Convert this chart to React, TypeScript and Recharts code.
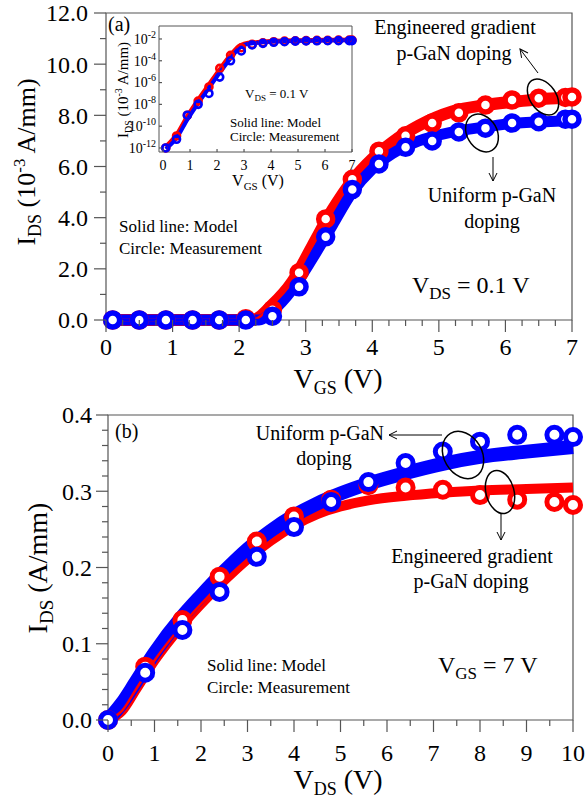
import React from "react";
import { ComposedChart, Line, XAxis, YAxis, ReferenceArea } from "recharts";

const FONT = "'Liberation Serif', 'Times New Roman', Times, serif";
const RED = "#ff0000";
const BLUE = "#0000ff";
const AXIS = "#555555";

// ---- (a) transfer curve, VDS = 0.1 V (IDS in 1e-3 A/mm) ----
const vgsMeas = [0.1, 0.5, 0.9, 1.3, 1.7, 2.1, 2.5, 2.9, 3.3, 3.7, 4.1, 4.5, 4.9, 5.3, 5.7, 6.1, 6.5, 6.9, 7.0];
const idsRedMeasA = [0, 0, 0, 0, 0, 0.05, 0.4, 1.85, 3.95, 5.5, 6.6, 7.2, 7.7, 8.1, 8.4, 8.6, 8.67, 8.7, 8.72];
const idsBlueMeasA = [0, 0, 0, 0, 0, 0, 0.15, 1.3, 3.25, 5.1, 6.1, 6.75, 7.0, 7.35, 7.5, 7.7, 7.75, 7.85, 7.85];

const vgsRedModelA = [0, 2.2, 2.5, 2.8, 3.1, 3.4, 3.7, 4.0, 4.3, 4.7, 5.2, 5.7, 6.2, 6.6, 7.0];
const idsRedModelA = [0, 0, 0.6, 1.5, 2.9, 4.3, 5.45, 6.3, 6.95, 7.6, 8.15, 8.4, 8.55, 8.65, 8.7];
const vgsBlueModelA = [0, 2.3, 2.5, 2.8, 3.1, 3.4, 3.7, 4.0, 4.3, 4.7, 5.2, 5.7, 6.2, 6.6, 7.0];
const idsBlueModelA = [0, 0, 0.35, 1.2, 2.4, 3.7, 5.0, 5.9, 6.5, 7.0, 7.35, 7.55, 7.7, 7.75, 7.8];

// inset: log10(IDS)
const logRedMeasIn = [-12.0, -10.9, -9.0, -7.7, -6.4, -4.7, -3.5, -2.8, -2.5, -2.35, -2.25, -2.2, -2.17, -2.15, -2.13, -2.12, -2.11, -2.1, -2.1];
const logBlueMeasIn = [-12.0, -11.2, -9.0, -8.0, -7.0, -5.5, -4.0, -3.1, -2.55, -2.4, -2.3, -2.25, -2.2, -2.18, -2.17, -2.16, -2.15, -2.15, -2.15];
const vgsModelIn = [0.1, 0.5, 0.9, 1.3, 1.7, 2.1, 2.5, 2.8, 3.0, 3.5, 4.0, 5.0, 6.0, 7.0];
const logRedModelIn = [-11.9, -10.8, -9.1, -7.6, -6.2, -4.8, -3.5, -2.7, -2.45, -2.3, -2.2, -2.13, -2.1, -2.08];
const logBlueModelIn = [-12.1, -11.1, -9.4, -7.9, -6.5, -5.1, -3.8, -2.9, -2.55, -2.35, -2.25, -2.17, -2.14, -2.12];

// ---- (b) output curve, VGS = 7 V (A/mm) ----
const vdsMeas = [0, 0.8, 1.6, 2.4, 3.2, 4.0, 4.8, 5.6, 6.4, 7.2, 8.0, 8.8, 9.6, 10];
const idsRedMeasB = [0, 0.07, 0.131, 0.188, 0.234, 0.267, 0.289, 0.308, 0.305, 0.302, 0.295, 0.289, 0.286, 0.282];
const idsBlueMeasB = [0, 0.062, 0.118, 0.168, 0.214, 0.253, 0.286, 0.312, 0.337, 0.352, 0.365, 0.374, 0.374, 0.371];
const vdsModel = [0, 0.3, 0.6, 1.0, 1.6, 2.0, 2.5, 3.0, 3.5, 4.0, 4.5, 5.0, 5.6, 6.4, 7.2, 8.0, 9.0, 10];
const idsRedModelB = [0, 0.012, 0.04, 0.078, 0.125, 0.152, 0.183, 0.211, 0.235, 0.255, 0.27, 0.28, 0.288, 0.294, 0.298, 0.301, 0.303, 0.305];
const idsBlueModelB = [0, 0.022, 0.05, 0.088, 0.136, 0.163, 0.195, 0.224, 0.248, 0.268, 0.284, 0.297, 0.31, 0.324, 0.336, 0.345, 0.352, 0.358];

// ticks
const ticksXA = [0, 0.25, 0.5, 0.75, 1, 1.25, 1.5, 1.75, 2, 2.25, 2.5, 2.75, 3, 3.25, 3.5, 3.75, 4, 4.25, 4.5, 4.75, 5, 5.25, 5.5, 5.75, 6, 6.25, 6.5, 6.75, 7];
const majorXA = [0, 1, 2, 3, 4, 5, 6, 7];
const ticksYA = [0, 1, 2, 3, 4, 5, 6, 7, 8, 9, 10, 11, 12];
const majorYA = [0, 2, 4, 6, 8, 10, 12];
const ticksXIn = [0, 1, 2, 3, 4, 5, 6, 7];
const ticksYIn = [-12, -10, -8, -6, -4, -2];
const ticksXB = [0, 0.5, 1, 1.5, 2, 2.5, 3, 3.5, 4, 4.5, 5, 5.5, 6, 6.5, 7, 7.5, 8, 8.5, 9, 9.5, 10];
const majorXB = [0, 1, 2, 3, 4, 5, 6, 7, 8, 9, 10];
const ticksYB = [0, 0.02, 0.04, 0.06, 0.08, 0.1, 0.12, 0.14, 0.16, 0.18, 0.2, 0.22, 0.24, 0.26, 0.28, 0.3, 0.32, 0.34, 0.36, 0.38, 0.4];
const majorYB = [0, 0.1, 0.2, 0.3, 0.4];

const zip = (xs: number[], ys: number[]) => xs.map((x, i) => ({ x, y: ys[i] }));

const isMajor = (v: number, majors: number[]) => majors.some((m) => Math.abs(m - v) < 1e-6);

type TickOpts = {
  side: "bottom" | "left";
  majors: number[];
  fmt: (v: number) => React.ReactNode;
  major: number;
  minor: number;
  gap: number;
  size: number;
  inward?: boolean;
};

function makeTick(o: TickOpts) {
  return (p: any) => {
    const { x, y, payload } = p;
    const v = payload.value as number;
    const big = isMajor(v, o.majors);
    const len = big ? o.major : o.minor;
    const d = o.inward ? -1 : 1;
    if (o.side === "bottom") {
      return (
        <g>
          {len > 0 && <line x1={x} x2={x} y1={y} y2={y + d * len} stroke={AXIS} strokeWidth={1.2} />}
          {big && (
            <text x={x} y={y + o.gap} textAnchor="middle" fontSize={o.size} fontFamily={FONT} fill="#000">
              {o.fmt(v)}
            </text>
          )}
        </g>
      );
    }
    return (
      <g>
        {len > 0 && <line x1={x} x2={x - d * len} y1={y} y2={y} stroke={AXIS} strokeWidth={1.2} />}
        {big && (
          <text x={x - o.gap} y={y} dy="0.35em" textAnchor="end" fontSize={o.size} fontFamily={FONT} fill="#000">
            {o.fmt(v)}
          </text>
        )}
      </g>
    );
  };
}

const pow10 = (v: number) => (
  <>
    <tspan>10</tspan>
    <tspan dy={-6} fontSize={10}>{v}</tspan>
  </>
);

const ring = (color: string, r: number, w: number, fill = "#ffffff") => ({ r, stroke: color, strokeWidth: w, fill });

function PanelA() {
  return (
    <ComposedChart width={586} height={400} margin={{ top: 13, right: 14, left: 0, bottom: 0 }}>
      <XAxis
        type="number"
        dataKey="x"
        domain={[0, 7]}
        ticks={ticksXA}
        interval={0}
        axisLine={false}
        tickLine={false}
        tickSize={0}
        tickMargin={0}
        height={80}
        tick={makeTick({ side: "bottom", majors: majorXA, fmt: (v) => String(v), major: 12, minor: 6, gap: 35, size: 24 })}
      />
      <YAxis
        type="number"
        domain={[0, 12]}
        ticks={ticksYA}
        interval={0}
        axisLine={false}
        tickLine={false}
        tickSize={0}
        tickMargin={0}
        width={106}
        tick={makeTick({ side: "left", majors: majorYA, fmt: (v) => v.toFixed(1), major: 12, minor: 6, gap: 18, size: 24 })}
      />
      <ReferenceArea x1={0} x2={7} y1={0} y2={12} fill="none" stroke={AXIS} strokeWidth={1.2} />
      <Line data={zip(vgsRedModelA, idsRedModelA)} dataKey="y" type="monotone" stroke={RED} strokeWidth={12} dot={false} activeDot={false} isAnimationActive={false} />
      <Line data={zip(vgsBlueModelA, idsBlueModelA)} dataKey="y" type="monotone" stroke={BLUE} strokeWidth={11} dot={false} activeDot={false} isAnimationActive={false} />
      <Line data={zip(vgsMeas, idsRedMeasA)} dataKey="y" stroke="none" dot={ring(RED, 7, 5.5)} activeDot={false} isAnimationActive={false} />
      <Line data={zip(vgsMeas, idsBlueMeasA)} dataKey="y" stroke="none" dot={ring(BLUE, 7, 5.5)} activeDot={false} isAnimationActive={false} />
      <Line data={zip(vgsRedModelA, idsRedModelA)} dataKey="y" type="monotone" stroke={RED} strokeWidth={2.5} dot={false} activeDot={false} isAnimationActive={false} />
      <Line data={zip(vgsBlueModelA, idsBlueModelA)} dataKey="y" type="monotone" stroke={BLUE} strokeWidth={2.5} dot={false} activeDot={false} isAnimationActive={false} />
    </ComposedChart>
  );
}

function Inset() {
  return (
    <ComposedChart width={260} height={185} margin={{ top: 11, right: 8, left: 0, bottom: 0 }}>
      <XAxis
        type="number"
        dataKey="x"
        domain={[-0.15, 7]}
        ticks={ticksXIn}
        interval={0}
        axisLine={false}
        tickLine={false}
        tickSize={0}
        tickMargin={0}
        height={48}
        tick={makeTick({ side: "bottom", majors: ticksXIn, fmt: (v) => String(v), major: 3, minor: 0, gap: 18, size: 14, inward: true })}
      />
      <YAxis
        type="number"
        domain={[-12.37, -0.81]}
        ticks={ticksYIn}
        interval={0}
        axisLine={false}
        tickLine={false}
        tickSize={0}
        tickMargin={0}
        width={59}
        tick={makeTick({ side: "left", majors: ticksYIn, fmt: pow10, major: 3, minor: 0, gap: 3, size: 14, inward: true })}
      />
      <ReferenceArea x1={-0.15} x2={7} y1={-12.37} y2={-0.81} fill="#ffffff" fillOpacity={0} stroke={AXIS} strokeWidth={1} />
      <Line data={zip(vgsModelIn, logRedModelIn)} dataKey="y" type="monotone" stroke={RED} strokeWidth={4.5} dot={false} activeDot={false} isAnimationActive={false} />
      <Line data={zip(vgsMeas, logRedMeasIn)} dataKey="y" stroke="none" dot={ring(RED, 3.5, 2.6, "none")} activeDot={false} isAnimationActive={false} />
      <Line data={zip(vgsModelIn, logBlueModelIn)} dataKey="y" type="monotone" stroke={BLUE} strokeWidth={4} dot={false} activeDot={false} isAnimationActive={false} />
      <Line data={zip(vgsMeas, logBlueMeasIn)} dataKey="y" stroke="none" dot={ring(BLUE, 3.5, 2.6, "none")} activeDot={false} isAnimationActive={false} />
    </ComposedChart>
  );
}

function PanelB() {
  return (
    <ComposedChart width={586} height={406} margin={{ top: 15, right: 13, left: 0, bottom: 0 }}>
      <XAxis
        type="number"
        dataKey="x"
        domain={[0, 10]}
        ticks={ticksXB}
        interval={0}
        axisLine={false}
        tickLine={false}
        tickSize={0}
        tickMargin={0}
        height={86}
        tick={makeTick({ side: "bottom", majors: majorXB, fmt: (v) => String(v), major: 12, minor: 6, gap: 41, size: 24 })}
      />
      <YAxis
        type="number"
        domain={[0, 0.4]}
        ticks={ticksYB}
        interval={0}
        axisLine={false}
        tickLine={false}
        tickSize={0}
        tickMargin={0}
        width={108}
        tick={makeTick({ side: "left", majors: majorYB, fmt: (v) => v.toFixed(1), major: 12, minor: 6, gap: 16, size: 24 })}
      />
      <ReferenceArea x1={0} x2={10} y1={0} y2={0.4} fill="none" stroke={AXIS} strokeWidth={1.2} />
      <Line data={zip(vdsModel, idsRedModelB)} dataKey="y" type="monotone" stroke={RED} strokeWidth={10} dot={false} activeDot={false} isAnimationActive={false} />
      <Line data={zip(vdsModel, idsBlueModelB)} dataKey="y" type="monotone" stroke={BLUE} strokeWidth={14} dot={false} activeDot={false} isAnimationActive={false} />
      <Line data={zip(vdsMeas, idsRedMeasB)} dataKey="y" stroke="none" dot={ring(RED, 7.5, 5)} activeDot={false} isAnimationActive={false} />
      <Line data={zip(vdsMeas, idsBlueMeasB)} dataKey="y" stroke="none" dot={ring(BLUE, 7.5, 5)} activeDot={false} isAnimationActive={false} />
      <Line data={zip(vdsModel, idsRedModelB)} dataKey="y" type="monotone" stroke={RED} strokeWidth={2.5} dot={false} activeDot={false} isAnimationActive={false} />
      <Line data={zip(vdsModel, idsBlueModelB)} dataKey="y" type="monotone" stroke={BLUE} strokeWidth={2.5} dot={false} activeDot={false} isAnimationActive={false} />
    </ComposedChart>
  );
}

function Overlay() {
  const t = { fontFamily: FONT, fill: "#000" } as const;
  return (
    <svg width={586} height={806} style={{ position: "absolute", left: 0, top: 0, pointerEvents: "none" }}>
      <defs>
        <marker id="ah" markerWidth={10} markerHeight={10} refX={9} refY={5} orient="auto" markerUnits="userSpaceOnUse">
          <path d="M1,1 L9,5 L1,9" fill="none" stroke="#000" strokeWidth={1} />
        </marker>
      </defs>

      {/* panel (a) */}
      <text x={108} y={31} fontSize={20} {...t}>(a)</text>
      <text transform="translate(35,162) rotate(-90)" textAnchor="middle" fontSize={26} {...t}>
        I<tspan dy={6} fontSize={18}>DS</tspan>
        <tspan dy={-6}> (10</tspan>
        <tspan dy={-10} fontSize={17}>-3</tspan>
        <tspan dy={10}> A/mm)</tspan>
      </text>
      <text x={338} y={388} textAnchor="middle" fontSize={28} {...t}>
        V<tspan dy={6} fontSize={18}>GS</tspan>
        <tspan dy={-6}> (V)</tspan>
      </text>
      <text x={119} y={232} fontSize={17} {...t}>Solid line: Model</text>
      <text x={119} y={254} fontSize={17} {...t}>Circle: Measurement</text>
      <text x={412} y={293} fontSize={24} {...t}>
        V<tspan dy={6} fontSize={17}>DS</tspan>
        <tspan dy={-6}> = 0.1 V</tspan>
      </text>
      <text x={455} y={34} textAnchor="middle" fontSize={20} {...t}>Engineered gradient</text>
      <text x={454} y={60} textAnchor="middle" fontSize={20} {...t}>p-GaN doping</text>
      <text x={492} y={202} textAnchor="middle" fontSize={20} {...t}>Uniform p-GaN</text>
      <text x={492} y={228} textAnchor="middle" fontSize={20} {...t}>doping</text>
      <ellipse cx={543} cy={97} rx={20} ry={13} transform="rotate(55 543 97)" fill="none" stroke="#000" strokeWidth={1.5} />
      <ellipse cx={482} cy={133} rx={20} ry={15} transform="rotate(60 482 133)" fill="none" stroke="#000" strokeWidth={1.5} />
      <line x1={538} y1={73} x2={520} y2={49} stroke="#000" strokeWidth={1} markerEnd="url(#ah)" />
      <line x1={493} y1={157} x2={493} y2={181} stroke="#000" strokeWidth={1} markerEnd="url(#ah)" />

      {/* inset labels */}
      <text transform="translate(128,90) rotate(-90)" textAnchor="middle" fontSize={15} {...t}>
        I<tspan dy={4} fontSize={10}>DS</tspan>
        <tspan dy={-4}> (10</tspan>
        <tspan dy={-6} fontSize={10}>-3</tspan>
        <tspan dy={6}> A/mm)</tspan>
      </text>
      <text x={258} y={186} textAnchor="middle" fontSize={16} {...t}>
        V<tspan dy={4} fontSize={11}>GS</tspan>
        <tspan dy={-4}> (V)</tspan>
      </text>
      <text x={245} y={98} fontSize={13} {...t}>
        V<tspan dy={3} fontSize={9}>DS</tspan>
        <tspan dy={-3}> = 0.1 V</tspan>
      </text>
      <text x={230} y={127} fontSize={13} {...t}>Solid line: Model</text>
      <text x={230} y={141} fontSize={13} {...t}>Circle: Measurement</text>

      {/* panel (b) */}
      <text x={115} y={438} fontSize={20} {...t}>(b)</text>
      <text transform="translate(47,568) rotate(-90)" textAnchor="middle" fontSize={28} {...t}>
        I<tspan dy={6} fontSize={19}>DS</tspan>
        <tspan dy={-6}> (A/mm)</tspan>
      </text>
      <text x={338} y={789} textAnchor="middle" fontSize={28} {...t}>
        V<tspan dy={6} fontSize={18}>DS</tspan>
        <tspan dy={-6}> (V)</tspan>
      </text>
      <text x={207} y={671} fontSize={17} {...t}>Solid line: Model</text>
      <text x={207} y={693} fontSize={17} {...t}>Circle: Measurement</text>
      <text x={438} y={673} fontSize={24} {...t}>
        V<tspan dy={6} fontSize={17}>GS</tspan>
        <tspan dy={-6}> = 7 V</tspan>
      </text>
      <text x={384} y={440} textAnchor="end" fontSize={20} {...t}>Uniform p-GaN</text>
      <text x={324} y={465} textAnchor="middle" fontSize={20} {...t}>doping</text>
      <text x={472} y={563} textAnchor="middle" fontSize={20} {...t}>Engineered gradient</text>
      <text x={471} y={588} textAnchor="middle" fontSize={20} {...t}>p-GaN doping</text>
      <ellipse cx={463} cy={455} rx={25} ry={19} transform="rotate(60 463 455)" fill="none" stroke="#000" strokeWidth={1.5} />
      <ellipse cx={500} cy={492} rx={22} ry={14} transform="rotate(75 500 492)" fill="none" stroke="#000" strokeWidth={1.5} />
      <line x1={442} y1={435} x2={389} y2={435} stroke="#000" strokeWidth={1} markerEnd="url(#ah)" />
      <line x1={501} y1={514} x2={501} y2={540} stroke="#000" strokeWidth={1} markerEnd="url(#ah)" />
    </svg>
  );
}

export default function App() {
  return (
    <div style={{ position: "absolute", left: 0, top: 0, width: 586, height: 806, background: "#fff", fontFamily: FONT }}>
      <div style={{ position: "absolute", left: 0, top: 0 }}>
        <PanelA />
      </div>
      <div style={{ position: "absolute", left: 100, top: 15 }}>
        <Inset />
      </div>
      <div style={{ position: "absolute", left: 0, top: 400 }}>
        <PanelB />
      </div>
      <Overlay />
    </div>
  );
}
